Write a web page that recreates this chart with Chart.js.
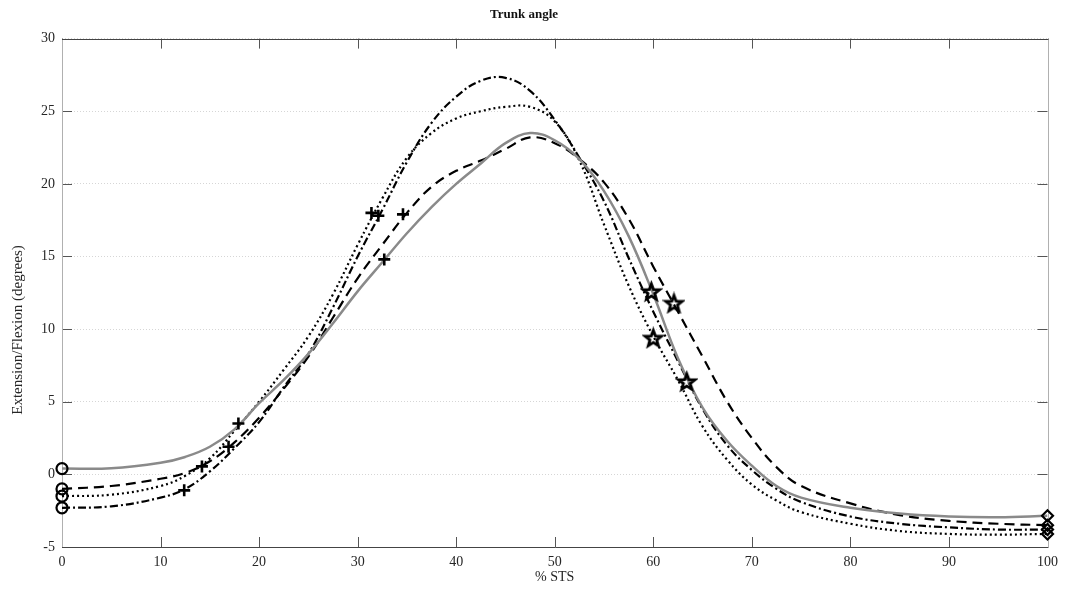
<!DOCTYPE html>
<html>
<head>
<meta charset="utf-8">
<title>Trunk angle</title>
<script src="https://cdn.jsdelivr.net/npm/chart.js@4.4.1/dist/chart.umd.min.js"></script>
<style>
  html, body { margin: 0; padding: 0; background: #fff; }
  #wrap { width: 1065px; height: 592px; }
</style>
</head>
<body>
<div id="wrap"><canvas id="trunkChart"></canvas></div>
<script>
// % of the sit-to-stand cycle
const pctSTS = [0, 5, 10, 12.5, 15, 17.5, 20, 22.5, 25, 27.5, 30, 32.5, 35, 37.5, 40, 42.5, 45, 47.5,
  50, 52.5, 55, 57.5, 60, 62.5, 65, 67.5, 70, 72.5, 75, 80, 85, 90, 95, 100];

// trunk angle curves (degrees), one per line style
const trunkSolid = [0.4, 0.42, 0.8, 1.2, 1.9, 3.1, 4.9, 6.5, 8.3, 10.4, 12.6, 14.6, 16.6, 18.4, 20.0, 21.4, 22.8, 23.5,
  23.0, 21.7, 19.5, 16.4, 12.4, 8.0, 4.6, 2.3, 0.6, -0.8, -1.6, -2.3, -2.7, -2.9, -2.95, -2.85];
const trunkDashed = [-1.0, -0.8, -0.3, 0.1, 0.9, 2.2, 3.9, 5.9, 8.1, 10.8, 13.5, 15.8, 18.0, 19.8, 20.9, 21.6, 22.4, 23.2,
  22.8, 21.7, 20.1, 17.6, 14.3, 11.2, 8.1, 5.0, 2.5, 0.5, -0.8, -2.0, -2.8, -3.2, -3.4, -3.5];
const trunkDotted = [-1.5, -1.4, -0.8, -0.1, 1.1, 3.0, 5.0, 7.2, 9.5, 12.4, 15.8, 19.0, 21.8, 23.5, 24.5, 25.0, 25.3, 25.3,
  24.3, 21.6, 17.2, 13.0, 9.5, 6.5, 3.3, 1.0, -0.7, -1.8, -2.6, -3.4, -3.9, -4.1, -4.15, -4.1];
const trunkDashDot = [-2.3, -2.2, -1.6, -1.0, 0.2, 1.8, 3.6, 6.0, 8.3, 11.5, 15.0, 18.2, 21.5, 24.2, 26.0, 27.1, 27.3, 26.4,
  24.4, 21.8, 18.8, 14.9, 11.2, 7.8, 4.5, 2.0, 0.3, -1.0, -1.9, -2.9, -3.4, -3.65, -3.8, -3.8];

// event markers (solid, dashed, dotted, dash-dot)
const startY = [0.4, -1.0, -1.5, -2.3];
const plusX = [17.9, 32.7, 16.9, 34.6, 14.2, 31.4, 12.4, 32.1];
const plusY = [3.5, 14.8, 1.9, 17.9, 0.55, 18.0, -1.1, 17.8];
const starX = [59.8, 62.1, 60.0, 63.4];
const starY = [12.6, 11.8, 9.4, 6.4];
const endY = [-2.85, -3.5, -4.1, -3.8];

const serif = '"Liberation Serif", "Times New Roman", serif';
Chart.defaults.font.family = serif;
Chart.defaults.color = '#262626';

function toPoints(xs, ys) {
  return ys.map((v, i) => ({ x: xs[i], y: v }));
}

// five-pointed star like MATLAB's pentagram
function makePentagram(r) {
  const c = document.createElement('canvas');
  const size = r * 2 + 6;
  c.width = size;
  c.height = size;
  const g = c.getContext('2d');
  g.beginPath();
  for (let i = 0; i < 10; i++) {
    const rad = i % 2 === 0 ? r : r * 0.42;
    const a = -Math.PI / 2 + i * Math.PI / 5;
    const px = size / 2 + rad * Math.cos(a);
    const py = size / 2 + 1 + rad * Math.sin(a);
    if (i === 0) g.moveTo(px, py); else g.lineTo(px, py);
  }
  g.closePath();
  g.lineWidth = 2.8;
  g.lineJoin = 'miter';
  g.strokeStyle = '#000';
  g.stroke();
  return c;
}

function lineSet(label, data, color, dash, width) {
  return {
    label: label,
    data: toPoints(pctSTS, data),
    borderColor: color,
    borderWidth: width,
    borderDash: dash,
    pointRadius: 0,
    fill: false,
    tension: 0.4,
    order: 2
  };
}

function markSet(label, xs, ys, style, radius, width) {
  return {
    label: label,
    data: toPoints(xs, ys),
    showLine: false,
    clip: false,
    pointStyle: style,
    pointRadius: radius,
    pointBorderWidth: width,
    pointBorderColor: '#000',
    pointBackgroundColor: 'rgba(0,0,0,0)',
    order: 0
  };
}

// box, inward tick marks and y-axis title
const matlabAxes = {
  id: 'matlabAxes',
  beforeDatasetsDraw(chart) {
    const { ctx, chartArea: a, scales: { x, y } } = chart;
    ctx.save();
    ctx.lineWidth = 1;

    ctx.strokeStyle = '#555';
    x.ticks.forEach(t => {
      const px = Math.round(x.getPixelForValue(t.value)) + 0.5;
      ctx.beginPath();
      ctx.moveTo(px, a.bottom); ctx.lineTo(px, a.bottom - 10);
      ctx.moveTo(px, a.top); ctx.lineTo(px, a.top + 10);
      ctx.stroke();
    });
    y.ticks.forEach(t => {
      const py = Math.round(y.getPixelForValue(t.value)) + 0.5;
      ctx.beginPath();
      ctx.moveTo(a.left, py); ctx.lineTo(a.left + 10, py);
      ctx.moveTo(a.right, py); ctx.lineTo(a.right - 10, py);
      ctx.stroke();
    });

    // left / right sides lighter, top / bottom darker
    ctx.strokeStyle = '#b0b0b0';
    ctx.beginPath();
    ctx.moveTo(Math.round(a.left) + 0.5, a.top); ctx.lineTo(Math.round(a.left) + 0.5, a.bottom);
    ctx.moveTo(Math.round(a.right) + 0.5, a.top); ctx.lineTo(Math.round(a.right) + 0.5, a.bottom);
    ctx.stroke();
    ctx.strokeStyle = '#444';
    ctx.beginPath();
    ctx.moveTo(a.left, Math.round(a.top) + 0.5); ctx.lineTo(a.right + 1, Math.round(a.top) + 0.5);
    ctx.moveTo(a.left, Math.round(a.bottom) + 0.5); ctx.lineTo(a.right + 1, Math.round(a.bottom) + 0.5);
    ctx.stroke();

    ctx.translate(18, 330);
    ctx.rotate(-Math.PI / 2);
    ctx.fillStyle = '#262626';
    ctx.font = '15px ' + serif;
    ctx.textAlign = 'center';
    ctx.textBaseline = 'middle';
    ctx.fillText('Extension/Flexion (degrees)', 0, 0);
    ctx.restore();
  }
};

const ctx = document.getElementById('trunkChart');

new Chart(ctx, {
  type: 'line',
  data: {
    datasets: [
      markSet('start', [0, 0, 0, 0], startY, 'circle', 5.5, 2.2),
      markSet('plus', plusX, plusY, 'cross', 6, 2.6),
      markSet('star', starX, starY, makePentagram(8.5), 8, 2),
      markSet('end', [100, 100, 100, 100], endY, 'rectRot', 5.5, 2.2),
      lineSet('solid', trunkSolid, '#8a8a8a', [], 2.5),
      lineSet('dashed', trunkDashed, '#000', [10, 6], 2.2),
      lineSet('dotted', trunkDotted, '#000', [2, 3], 2.2),
      lineSet('dash-dot', trunkDashDot, '#000', [8, 3, 2, 3], 2.2)
    ]
  },
  plugins: [matlabAxes],
  options: {
    responsive: true,
    maintainAspectRatio: false,
    animation: false,
    layout: {
      padding: { left: 0, right: 17, top: 0, bottom: 0 }
    },
    plugins: {
      legend: { display: false },
      tooltip: { enabled: false },
      title: {
        display: true,
        text: 'Trunk angle',
        color: '#111',
        font: { size: 13, weight: 'bold', family: serif },
        padding: { top: 7, bottom: 16 }
      }
    },
    scales: {
      x: {
        type: 'linear',
        min: 0,
        max: 100,
        afterFit: function(scale) { scale.height = 45; },
        grid: { display: false, drawTicks: false, tickLength: 0 },
        border: { display: false },
        ticks: {
          stepSize: 10,
          padding: 7,
          font: { size: 14, family: serif },
          color: '#262626'
        },
        title: {
          display: true,
          text: '% STS',
          font: { size: 14, family: serif },
          color: '#262626',
          padding: { top: 0, bottom: 6 }
        }
      },
      y: {
        min: -5,
        max: 30,
        afterFit: function(scale) { scale.width = 62; },
        grid: {
          color: '#d6d6d6',
          lineWidth: 1,
          drawTicks: false,
          tickLength: 0
        },
        border: { display: false, dash: [1, 2] },
        ticks: {
          stepSize: 5,
          padding: 7,
          font: { size: 14, family: serif },
          color: '#262626'
        }
      }
    }
  }
});
</script>
</body>
</html>
